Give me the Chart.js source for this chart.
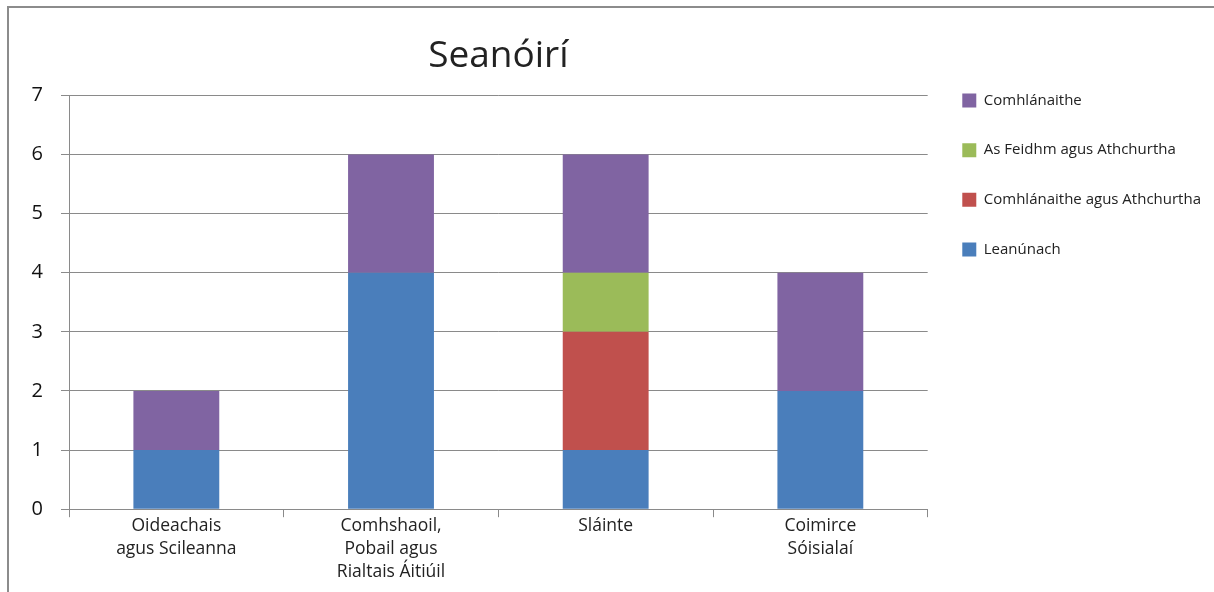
<!DOCTYPE html>
<html>
<head>
<meta charset="utf-8">
<script src="https://cdn.jsdelivr.net/npm/chart.js@4"></script>
<style>
    html, body { margin: 0; padding: 0; background: #fff; overflow: hidden; }
    #wrap { position: relative; width: 1214px; height: 592px; }
    #frame { position: absolute; left: 7px; top: 6px; width: 1300px; height: 700px; border: 2px solid #8c8c8c; box-sizing: border-box; }
    #chart { position: absolute; left: 0; top: 0; }
</style>
</head>
<body>
<div id="wrap">
    <div id="frame"></div>
    <canvas id="chart" width="1214" height="592"></canvas>
</div>
<script>
    let categories = [
        ["Oideachais", "agus Scileanna"],
        ["Comhshaoil,", "Pobail agus", "Rialtais Áitiúil"],
        ["Sláinte"],
        ["Coimirce", "Sóisialaí"]
    ]
    let leanunach = [1, 4, 1, 2]
    let comhlAthch = [0, 0, 2, 0]
    let asFeidhm = [0, 0, 1, 0]
    let comhlanaithe = [1, 2, 2, 2]
    let yTicks = [0, 1, 2, 3, 4, 5, 6, 7]

    let gridColor = "#8a8a8a"
    let font = "'Open Sans', sans-serif"

    let ctx = document.getElementById("chart")
    let chart = new Chart(ctx, {
        type: 'bar',
        data: {
            labels: categories,
            datasets: [
                { label: "Leanúnach", data: leanunach, backgroundColor: "#4A7EBB" },
                { label: "Comhlánaithe agus Athchurtha", data: comhlAthch, backgroundColor: "#C0504D" },
                { label: "As Feidhm agus Athchurtha", data: asFeidhm, backgroundColor: "#9BBB59" },
                { label: "Comhlánaithe", data: comhlanaithe, backgroundColor: "#8064A2" }
            ]
        },
        options: {
            responsive: false,
            animation: false,
            layout: { padding: { left: 0, right: 3, top: 0, bottom: 11 } },
            datasets: { bar: { barPercentage: 0.4, categoryPercentage: 1.0 } },
            scales: {
                x: {
                    stacked: true,
                    grid: { display: true, drawOnChartArea: false, offset: true, color: gridColor, tickLength: 8 },
                    border: { color: gridColor },
                    ticks: { color: "#222", padding: -3, maxRotation: 0, font: { family: font, size: 17.5, lineHeight: 1.33 } }
                },
                y: {
                    stacked: true,
                    min: 0,
                    max: 7,
                    afterFit: function (scale) { scale.width = 69 },
                    afterBuildTicks: function (scale) {
                        scale.ticks = yTicks.map(function (v) { return { value: v } })
                    },
                    grid: { color: gridColor, tickLength: 8 },
                    border: { color: gridColor },
                    ticks: { color: "#111", padding: 18, font: { family: font, size: 20 } }
                }
            },
            plugins: {
                title: {
                    display: true,
                    text: "Seanóirí",
                    fullSize: false,
                    color: "#222",
                    font: { family: font, size: 37, weight: 'normal' },
                    padding: { top: 34, bottom: 17 }
                },
                legend: {
                    position: 'right',
                    align: 'start',
                    reverse: true,
                    title: { display: true, text: "", font: { size: 1, lineHeight: 1 }, padding: { top: 57.5, bottom: 0 } },
                    labels: {
                        boxWidth: 14,
                        boxHeight: 14,
                        padding: 34.6,
                        color: "#222",
                        font: { family: font, size: 15 }
                    }
                },
                tooltip: { enabled: false }
            }
        }
    })
</script>
</body>
</html>
